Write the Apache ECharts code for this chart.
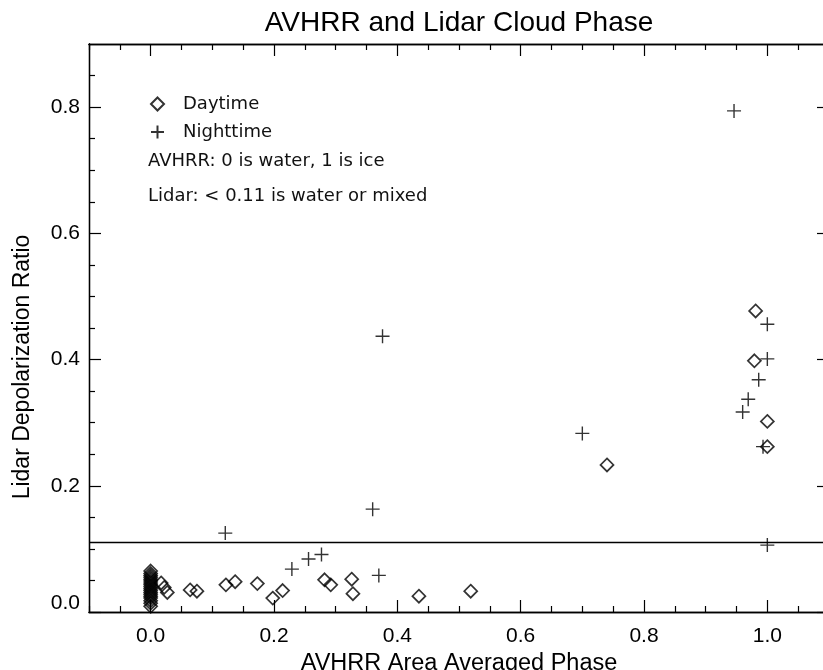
<!DOCTYPE html>
<html>
<head>
<meta charset="utf-8">
<script src="https://cdn.jsdelivr.net/npm/echarts@6/dist/echarts.min.js"></script>
<style>html,body{margin:0;padding:0;background:#fff}#c{width:823px;height:670px}</style>
</head>
<body>
<div id="c"></div>
<script>
// Daytime (diamonds): [AVHRR phase, lidar depolarization]
const dayX = [0,0,0,0,0,0,0,0,0,0,0,0,0,0,0,0,0,0,
  0.017,0.022,0.027,0.064,0.075,0.122,0.137,0.173,0.198,0.214,
  0.282,0.292,0.326,0.328,0.435,0.519,0.740,0.979,0.981,1.0,1.0];
const dayY = [0.065,0.061,0.058,0.055,0.052,0.049,0.046,0.043,0.040,0.037,0.034,0.031,0.028,0.025,0.022,0.018,0.014,0.009,
  0.046,0.039,0.031,0.035,0.033,0.043,0.048,0.045,0.022,0.034,
  0.051,0.043,0.052,0.029,0.025,0.033,0.233,0.398,0.477,0.302,0.262];
// Nighttime (plus)
const nightX = [0.121,0.229,0.256,0.277,0.360,0.370,0.376,0.700,0.946,0.960,0.969,0.986,0.993,1.0,1.0,1.0];
const nightY = [0.125,0.068,0.084,0.091,0.163,0.058,0.437,0.283,0.794,0.317,0.337,0.368,0.262,0.456,0.401,0.106];
const threshold = 0.11;
const xMajor = [0,0.2,0.4,0.6,0.8,1.0];
const xMinor = [-0.1,-0.05,0.05,0.1,0.15,0.25,0.3,0.35,0.45,0.5,0.55,0.65,0.7,0.75,0.85,0.9,0.95,1.05];
const yMajor = [0,0.2,0.4,0.6,0.8];
const yMinor = [0.05,0.1,0.15,0.25,0.3,0.35,0.45,0.5,0.55,0.65,0.7,0.75,0.85];
const notes = ['AVHRR: 0 is water, 1 is ice', 'Lidar: < 0.11 is water or mixed'];

const pair = (xs, ys) => xs.map((x, i) => [x, ys[i]]);
const F = '"Liberation Sans", Arial, sans-serif';
const LF = '"DejaVu Sans", sans-serif';
const MAJ = 12, MIN = 6;

function xAx(pos, ticks, len, labels) {
  return {
    type: 'value', position: pos, min: -0.1, max: 1.1,
    axisLine: { show: true, onZero: false, lineStyle: { color: '#000', width: 1.3 } },
    splitLine: { show: false },
    axisTick: { show: true, inside: true, length: len, customValues: ticks, lineStyle: { color: '#000', width: 1.2 } },
    axisLabel: labels ? { show: true, customValues: ticks, formatter: v => v.toFixed(1), color: '#000', fontFamily: F, fontSize: 21, margin: 14 } : { show: false },
    name: labels ? 'AVHRR Area Averaged Phase' : '', nameLocation: 'middle', nameGap: 38,
    nameTextStyle: { color: '#000', fontFamily: F, fontSize: 23.5 }
  };
}
function yAx(pos, ticks, len, labels) {
  return {
    type: 'value', position: pos, min: 0, max: 0.9,
    axisLine: { show: true, onZero: false, lineStyle: { color: '#000', width: 1.3 } },
    splitLine: { show: false },
    axisTick: { show: true, inside: true, length: len, customValues: ticks, lineStyle: { color: '#000', width: 1.2 } },
    axisLabel: labels ? {
      show: true, customValues: ticks, color: '#000', fontFamily: F, fontSize: 21, margin: 9,
      formatter: v => v === 0 ? '{z|0.0}' : v.toFixed(1),
      rich: { z: { fontFamily: F, fontSize: 21, color: '#000', padding: [0, 0, 18, 0] } }
    } : { show: false },
    name: labels ? 'Lidar Depolarization Ratio' : '', nameLocation: 'middle', nameGap: 55, nameRotate: 90,
    nameTextStyle: { color: '#000', fontFamily: F, fontSize: 23, padding: [0, 78, 0, 0] }
  };
}

const chart = echarts.init(document.getElementById('c'), null, { renderer: 'canvas' });
chart.setOption({
  backgroundColor: '#fff',
  animation: false,
  title: { text: 'AVHRR and Lidar Cloud Phase', left: 454, top: 4, textAlign: 'center',
    textStyle: { color: '#000', fontFamily: F, fontSize: 28, fontWeight: 'normal' } },
  grid: { left: 89, right: -6, top: 44, bottom: 58, containLabel: false, outerBoundsMode: 'none' },
  xAxis: [xAx('bottom', xMajor, MAJ, true), xAx('bottom', xMinor, MIN, false),
          xAx('top', xMajor, MAJ, false), xAx('top', xMinor, MIN, false)],
  yAxis: [yAx('left', yMajor, MAJ, true), yAx('left', yMinor, MIN, false),
          yAx('right', yMajor, MAJ, false), yAx('right', yMinor, MIN, false)],
  legend: {
    orient: 'vertical', left: 145, top: 90, itemWidth: 13, itemHeight: 13, itemGap: 10,
    data: ['Daytime', 'Nighttime'],
    textStyle: { color: '#111', fontFamily: LF, fontSize: 18, padding: [0, 0, 0, 14] }
  },
  graphic: notes.map((t, i) => ({
    type: 'text', left: 148, top: 152 + i * 35,
    style: { text: t, fill: '#111', font: '18px "DejaVu Sans", sans-serif' }
  })),
  series: [
    {
      name: 'Daytime', type: 'scatter', data: pair(dayX, dayY), symbol: 'diamond', symbolSize: 13,
      itemStyle: { color: 'rgba(0,0,0,0)', borderColor: '#000', borderWidth: 1.7 },
      markLine: {
        silent: true, symbol: 'none', label: { show: false },
        lineStyle: { color: '#000', width: 1.3, type: 'solid' },
        data: [{ yAxis: threshold }]
      }
    },
    {
      name: 'Nighttime', type: 'scatter', data: pair(nightX, nightY),
      symbol: 'path://M0,6L12,6M6,0L6,12', symbolSize: 14,
      itemStyle: { color: 'rgba(0,0,0,0)', borderColor: '#000', borderWidth: 1.4 }
    }
  ]
});
</script>
</body>
</html>
